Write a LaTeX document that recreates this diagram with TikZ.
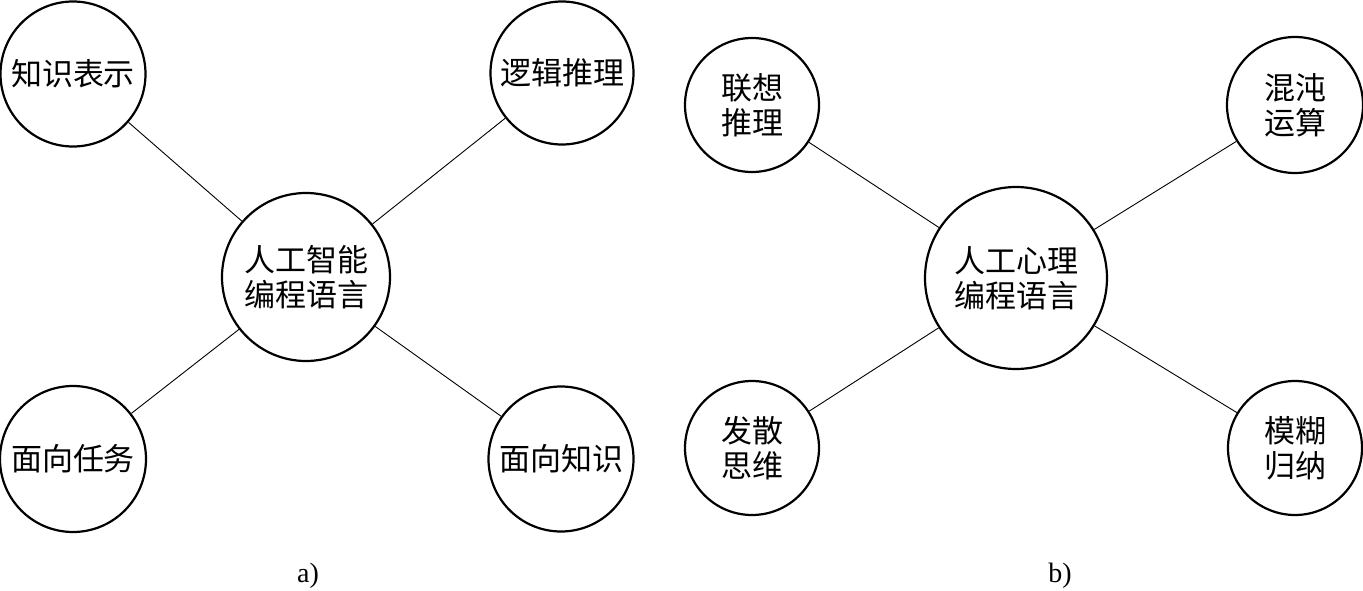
\documentclass[tikz,border=0pt]{standalone}
\usepackage{fontspec}
\setmainfont{Liberation Serif}
\newfontfamily\cjk{Noto Sans CJK SC}
\begin{document}
\begin{tikzpicture}[x=1pt,y=-1pt,
  bub/.style={circle,draw,line width=2.2pt,inner sep=0pt,align=center,
    font=\cjk\fontsize{31}{35}\selectfont},
  link/.style={line width=0.9pt},
  captxt/.style={font=\fontsize{28}{32}\selectfont}]
\useasboundingbox (0,0) rectangle (1363,591);
% a)
\node[bub,minimum size=168pt] (ca) at (306,277) {人工智能\\编程语言};
\node[bub,minimum size=145pt] (a1) at (73,74) {知识表示};
\node[bub,minimum size=143pt] (a2) at (562,73) {逻辑推理};
\node[bub,minimum size=146pt] (a3) at (73,459) {面向任务};
\node[bub,minimum size=145pt] (a4) at (561,459) {面向知识};
\draw[link] (ca) -- (a1);
\draw[link] (ca) -- (a2);
\draw[link] (ca) -- (a3);
\draw[link] (ca) -- (a4);
\node[captxt] (la) at (308,576) {a)};
% b)
\node[bub,minimum size=182pt] (cb) at (1016,278) {人工心理\\编程语言};
\node[bub,minimum size=134pt] (b1) at (752,105) {联想\\推理};
\node[bub,minimum size=136pt] (b2) at (1295,105) {混沌\\运算};
\node[bub,minimum size=134pt] (b3) at (752,448) {发散\\思维};
\node[bub,minimum size=134pt] (b4) at (1295,448) {模糊\\归纳};
\draw[link] (cb) -- (b1);
\draw[link] (cb) -- (b2);
\draw[link] (cb) -- (b3);
\draw[link] (cb) -- (b4);
\node[captxt] (lb) at (1060,576) {b)};
\end{tikzpicture}
\end{document}
